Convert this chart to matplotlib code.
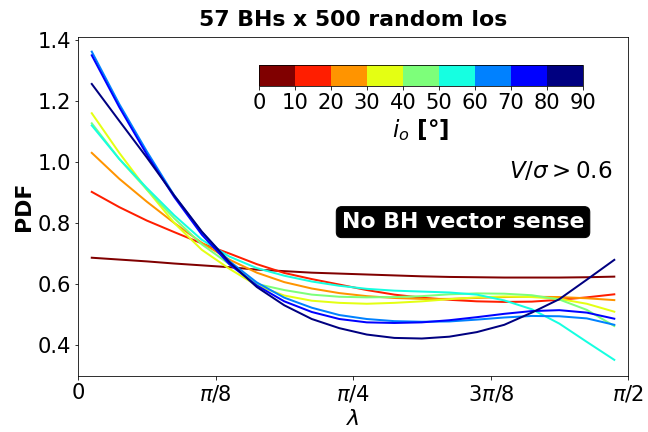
import numpy as np
import matplotlib
matplotlib.use("Agg")
import matplotlib.pyplot as plt
from matplotlib.colors import ListedColormap, BoundaryNorm
from matplotlib.cm import ScalarMappable

# ---- data ----
n_bins = 20
lam = (np.arange(n_bins) + 0.5) * (np.pi / 2) / n_bins  # bin centres

inc_bounds = [0, 10, 20, 30, 40, 50, 60, 70, 80, 90]

pdf_0_10 = [0.686, 0.680, 0.674, 0.667, 0.661, 0.655, 0.647, 0.642, 0.637, 0.634,
            0.631, 0.628, 0.625, 0.623, 0.622, 0.621, 0.621, 0.621, 0.622, 0.624]
pdf_10_20 = [0.902, 0.852, 0.808, 0.770, 0.733, 0.700, 0.665, 0.636, 0.616, 0.598,
             0.580, 0.565, 0.555, 0.548, 0.543, 0.541, 0.542, 0.548, 0.556, 0.566]
pdf_20_30 = [1.030, 0.945, 0.870, 0.800, 0.735, 0.680, 0.637, 0.606, 0.585, 0.570,
             0.560, 0.554, 0.551, 0.551, 0.554, 0.557, 0.558, 0.557, 0.553, 0.547]
pdf_30_40 = [1.160, 1.030, 0.910, 0.800, 0.712, 0.650, 0.595, 0.562, 0.545, 0.538,
             0.535, 0.538, 0.543, 0.550, 0.556, 0.559, 0.557, 0.551, 0.535, 0.509]
pdf_40_50 = [1.127, 1.010, 0.910, 0.815, 0.730, 0.665, 0.600, 0.580, 0.565, 0.558,
             0.556, 0.557, 0.560, 0.566, 0.569, 0.568, 0.563, 0.549, 0.515, 0.462]
pdf_50_60 = [1.120, 1.010, 0.915, 0.825, 0.745, 0.690, 0.652, 0.627, 0.608, 0.594,
             0.584, 0.578, 0.575, 0.572, 0.565, 0.546, 0.517, 0.470, 0.410, 0.351]
pdf_60_70 = [1.362, 1.190, 1.035, 0.890, 0.770, 0.675, 0.605, 0.555, 0.522, 0.498,
             0.485, 0.478, 0.476, 0.477, 0.483, 0.490, 0.495, 0.494, 0.487, 0.466]
pdf_70_80 = [1.350, 1.180, 1.025, 0.885, 0.762, 0.665, 0.595, 0.543, 0.508, 0.485,
             0.474, 0.472, 0.474, 0.481, 0.491, 0.502, 0.511, 0.514, 0.506, 0.486]
pdf_80_90 = [1.256, 1.135, 1.015, 0.890, 0.772, 0.672, 0.590, 0.530, 0.485, 0.455,
             0.434, 0.423, 0.421, 0.427, 0.442, 0.466, 0.506, 0.550, 0.614, 0.679]

series = [pdf_0_10, pdf_10_20, pdf_20_30, pdf_30_40, pdf_40_50,
          pdf_50_60, pdf_60_70, pdf_70_80, pdf_80_90]

xtick_vals = [0, np.pi / 8, np.pi / 4, 3 * np.pi / 8, np.pi / 2]
xtick_labels = ['0', r'$\pi/8$', r'$\pi/4$', r'$3\pi/8$', r'$\pi/2$']
ytick_vals = [0.4, 0.6, 0.8, 1.0, 1.2, 1.4]

# ---- figure ----
fig = plt.figure(figsize=(9, 6), dpi=72)
ax = fig.add_axes([0.1204, 0.1296, 0.8488, 0.7847])

colors = plt.cm.jet(np.linspace(1, 0, 9))
cmap = ListedColormap(colors)
norm = BoundaryNorm(inc_bounds, cmap.N)

for k, vals in enumerate(series):
    ax.plot(lam, vals, color=colors[k], lw=2)

ax.set_xlim(0, np.pi / 2)
ax.set_ylim(0.298, 1.410)
ax.set_xticks(xtick_vals)
ax.set_xticklabels(xtick_labels)
ax.set_yticks(ytick_vals)
ax.set_yticklabels(['%.1f' % v for v in ytick_vals])
ax.tick_params(labelsize=21)
ax.set_xlabel(r'$\lambda$', fontsize=22, labelpad=5)
ax.set_ylabel('PDF', fontsize=22, fontweight='bold')
ax.set_title('57 BHs x 500 random los', fontsize=22, fontweight='bold', pad=11)

ax.text(0.971, 0.602, r'$V/\sigma > 0.6$', transform=ax.transAxes,
        fontsize=23, ha='right', va='center')
ax.text(0.70, 0.454, 'No BH vector sense', transform=ax.transAxes,
        fontsize=22, fontweight='bold', color='white', ha='center', va='center',
        bbox=dict(boxstyle='round,pad=0.25', facecolor='black', edgecolor='black'))

cax = fig.add_axes([0.3997, 0.801, 0.5, 0.0486])
sm = ScalarMappable(norm=norm, cmap=cmap)
cb = fig.colorbar(sm, cax=cax, orientation='horizontal', ticks=inc_bounds)
cb.ax.tick_params(labelsize=21)
cb.set_label(r'$i_o$ [°]', fontsize=23, fontweight='bold', labelpad=4)

fig.savefig('out.png', dpi=72)
